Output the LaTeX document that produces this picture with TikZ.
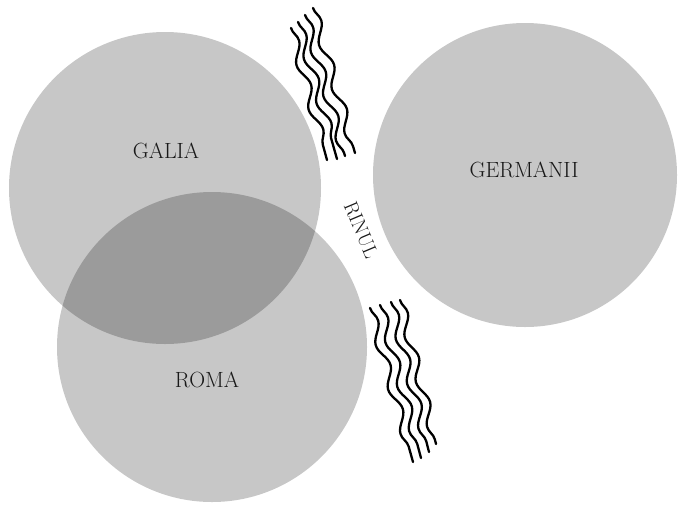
\documentclass[tikz,border=0pt]{standalone}
\usepackage{tikz}
\usetikzlibrary{decorations.pathmorphing}

\begin{document}
\begin{tikzpicture}[
    x=1pt, y=-1pt,
    land/.style={circle, fill=black, fill opacity=0.22, inner sep=0pt, draw=none},
    lbl/.style={font=\fontsize{22}{26}\selectfont, text=black!90},
    wave/.style={line width=2.3pt, line cap=round, decorate,
        decoration={snake, amplitude=4.5pt, segment length=46pt}},
]
    \useasboundingbox (0,0) rectangle (679,504);

    \node[land, minimum size=312pt] (galia) at (165,188) {};
    \node[land, minimum size=310pt] (roma) at (212,347) {};
    \node[land, minimum size=304pt] (germanii) at (525,175) {};

    \node[lbl] (tgalia) at (166,151) {GALIA};
    \node[lbl] (troma) at (207,380) {ROMA};
    \node[lbl] (tgermanii) at (524,170) {GERMANII};
    \node[lbl, font=\fontsize{20}{24}\selectfont, rotate=-67] (trinul) at (361,230) {RINUL};

    % river, upper part
    \draw[wave] (291,28) -- (327,160);
    \draw[wave] (298,22) -- (337,159);
    \draw[wave] (305,15) -- (345,156);
    \draw[wave] (313,8) -- (355,153);

    % river, lower part
    \draw[wave] (370,308) -- (413,462);
    \draw[wave] (380,305) -- (421,458);
    \draw[wave] (391,302) -- (429,452);
    \draw[wave] (400,300) -- (436,444);
\end{tikzpicture}
\end{document}
